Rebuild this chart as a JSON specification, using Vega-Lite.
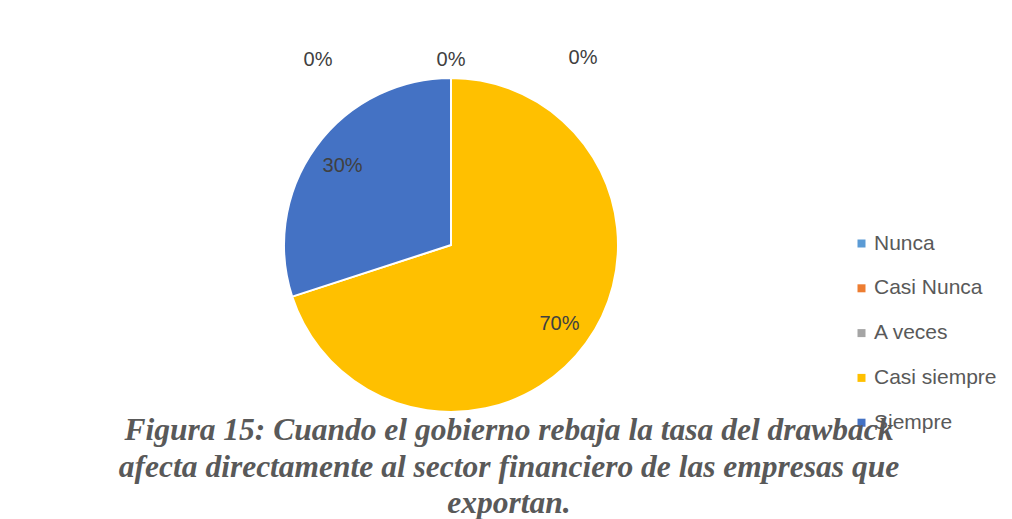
{
  "$schema": "https://vega.github.io/schema/vega-lite/v6.json",
  "width": 902,
  "height": 490,
  "autosize": {"type": "none"},
  "padding": {"left": 0, "top": 0, "right": 110, "bottom": 29},
  "background": "white",
  "config": {"view": {"stroke": null}},
  "title": {
    "text": ["Figura 15: Cuando el gobierno rebaja la tasa del drawback", "afecta directamente al sector financiero de las empresas que", "exportan."],
    "orient": "bottom",
    "anchor": "middle",
    "offset": -75,
    "dx": 58,
    "font": "Liberation Serif",
    "fontSize": 31.5,
    "fontStyle": "italic",
    "fontWeight": "bold",
    "color": "#595959",
    "lineHeight": 36.5
  },
  "data": {
    "values": [
      {"categoria": "Nunca", "valor": 0, "orden": 1, "etiqueta": "0%"},
      {"categoria": "Casi Nunca", "valor": 0, "orden": 2, "etiqueta": "0%"},
      {"categoria": "A veces", "valor": 0, "orden": 3, "etiqueta": "0%"},
      {"categoria": "Casi siempre", "valor": 70, "orden": 4, "etiqueta": "70%"},
      {"categoria": "Siempre", "valor": 30, "orden": 5, "etiqueta": "30%"}
    ]
  },
  "encoding": {
    "theta": {"field": "valor", "type": "quantitative", "stack": true},
    "order": {"field": "orden", "type": "quantitative"}
  },
  "layer": [
    {
      "mark": {"type": "arc", "outerRadius": 167, "stroke": "white", "strokeWidth": 2},
      "encoding": {
        "color": {
          "field": "categoria",
          "type": "nominal",
          "sort": ["Nunca", "Casi Nunca", "A veces", "Casi siempre", "Siempre"],
          "scale": {
            "domain": ["Nunca", "Casi Nunca", "A veces", "Casi siempre", "Siempre"],
            "range": ["#5B9BD5", "#ED7D31", "#A5A5A5", "#FFC000", "#4472C4"]
          },
          "legend": {
            "title": null,
            "orient": "none",
            "legendX": 851,
            "legendY": 233,
            "symbolType": "square",
            "symbolSize": 64,
            "symbolStrokeWidth": 0,
            "labelFont": "Liberation Sans",
            "labelFontSize": 21,
            "labelColor": "#595959",
            "labelOffset": 2,
            "rowPadding": 22.8
          }
        }
      }
    },
    {
      "transform": [{"filter": "datum.valor > 0"}],
      "mark": {"type": "text", "radius": 134, "font": "Liberation Sans", "fontSize": 20, "color": "#404040"},
      "encoding": {"text": {"field": "etiqueta", "type": "nominal"}}
    },
    {
      "transform": [{"filter": "datum.categoria == 'Nunca'"}],
      "mark": {"type": "text", "radius": 185, "dx": -133, "font": "Liberation Sans", "fontSize": 20, "color": "#404040"},
      "encoding": {"text": {"field": "etiqueta", "type": "nominal"}}
    },
    {
      "transform": [{"filter": "datum.categoria == 'Casi Nunca'"}],
      "mark": {"type": "text", "radius": 185, "dx": 0, "font": "Liberation Sans", "fontSize": 20, "color": "#404040"},
      "encoding": {"text": {"field": "etiqueta", "type": "nominal"}}
    },
    {
      "transform": [{"filter": "datum.categoria == 'A veces'"}],
      "mark": {"type": "text", "radius": 187, "dx": 132, "font": "Liberation Sans", "fontSize": 20, "color": "#404040"},
      "encoding": {"text": {"field": "etiqueta", "type": "nominal"}}
    }
  ]
}
